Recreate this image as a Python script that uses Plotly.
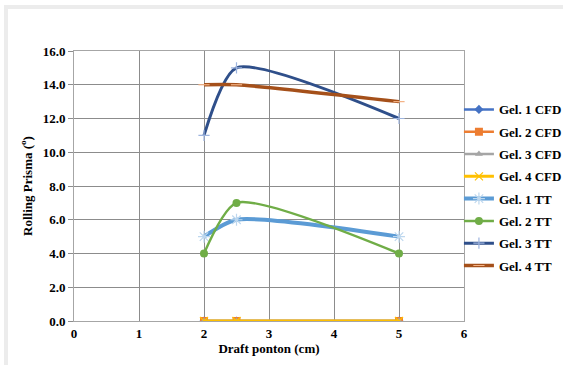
import plotly.graph_objects as go

x_vals = [2, 2.5, 5]
gel1_cfd = [0, 0, 0]
gel2_cfd = [0, 0, 0]
gel3_cfd = [0, 0, 0]
gel4_cfd = [0, 0, 0]
gel1_tt = [5, 6, 5]
gel2_tt = [4, 7, 4]
gel3_tt = [11, 15, 12]
gel4_tt = [14, 14, 13]

x_ticks = [0, 1, 2, 3, 4, 5, 6]
y_ticks = [0, 2, 4, 6, 8, 10, 12, 14, 16]

series = [
    ("Gel. 1 CFD", gel1_cfd, "#4472C4", "diamond", 7, 2.5, "linear"),
    ("Gel. 2 CFD", gel2_cfd, "#ED7D31", "square", 8, 2.5, "linear"),
    ("Gel. 3 CFD", gel3_cfd, "#A5A5A5", "triangle-up", 7, 2.5, "linear"),
    ("Gel. 4 CFD", gel4_cfd, "#FFC000", "x-thin-open", 8, 3, "linear"),
    ("Gel. 1 TT", gel1_tt, "#5B9BD5", "asterisk-open", 10, 4, "spline"),
    ("Gel. 2 TT", gel2_tt, "#70AD47", "circle", 8, 2.5, "spline"),
    ("Gel. 3 TT", gel3_tt, "#2F4F8A", "cross-thin-open", 8, 3, "spline"),
    ("Gel. 4 TT", gel4_tt, "#A5501A", "line-ew-open", 8, 3.5, "spline"),
]

fig = go.Figure()
for i, (name, ys, color, sym, msize, lw, shape) in enumerate(series):
    mk = dict(symbol=sym, size=msize, color=color)
    if sym.endswith("-open"):
        if name == "Gel. 3 TT":
            mk["color"] = "#9DB4DE"
        elif name == "Gel. 4 TT":
            mk["color"] = "#F4B183"
        elif name == "Gel. 1 TT":
            mk["color"] = "#BDD7EE"
        mk["line"] = dict(width=1.2, color=mk["color"])
    fig.add_trace(go.Scatter(
        x=x_vals, y=ys, name="<b>" + name + "</b>", mode="lines+markers",
        line=dict(color=color, width=lw, shape=shape, smoothing=0.65),
        marker=mk, legendgroup=f"g{i}",
    ))

font_fam = "Liberation Serif, Times New Roman, serif"
fig.update_layout(
    width=563, height=365,
    margin=dict(l=74, r=99, t=51, b=44, autoexpand=False),
    paper_bgcolor="white", plot_bgcolor="white",
    font=dict(family=font_fam, size=12, color="black"),
    showlegend=True,
    legend=dict(
        x=0.987, xanchor="left", y=0.839, yanchor="top",
        font=dict(family=font_fam, size=13, color="black"),
        tracegroupgap=2.4, itemwidth=30, bgcolor="rgba(0,0,0,0)",
    ),
    xaxis=dict(
        range=[0, 6], tickvals=x_ticks, ticktext=[f"<b>{v}</b>" for v in x_ticks],
        showgrid=True, gridcolor="#8c8c8c", gridwidth=1,
        showline=True, linecolor="#a6a6a6", linewidth=1, mirror=True,
        zeroline=False, ticks="",
        tickfont=dict(family=font_fam, size=13, color="black"),
        title=dict(text="<b>Draft ponton (cm)</b>", standoff=1,
                   font=dict(family=font_fam, size=13, color="black")),
    ),
    yaxis=dict(
        range=[0, 16], tickvals=y_ticks, ticktext=[f"<b>{v:.1f}</b>" for v in y_ticks],
        showgrid=True, gridcolor="#8c8c8c", gridwidth=1,
        showline=True, linecolor="#a6a6a6", linewidth=1, mirror=True,
        zeroline=False, ticks="outside", ticklen=5, tickcolor="#8c8c8c",
        tickfont=dict(family=font_fam, size=13, color="black"),
        title=dict(text="<b>Rolling Prisma (<sup>o</sup>)</b>", standoff=7,
                   font=dict(family=font_fam, size=13, color="black")),
    ),
    shapes=[
        dict(type="rect", xref="paper", yref="paper", layer="below",
             x0=-0.1795, x1=1.26, y0=1.1556, y1=1.1704,
             fillcolor="#ececec", line=dict(width=0)),
        dict(type="rect", xref="paper", yref="paper", layer="below",
             x0=-0.1795, x1=-0.1692, y0=-0.17, y1=1.1704,
             fillcolor="#ececec", line=dict(width=0)),
    ],
)

fig.write_html("out.html")
